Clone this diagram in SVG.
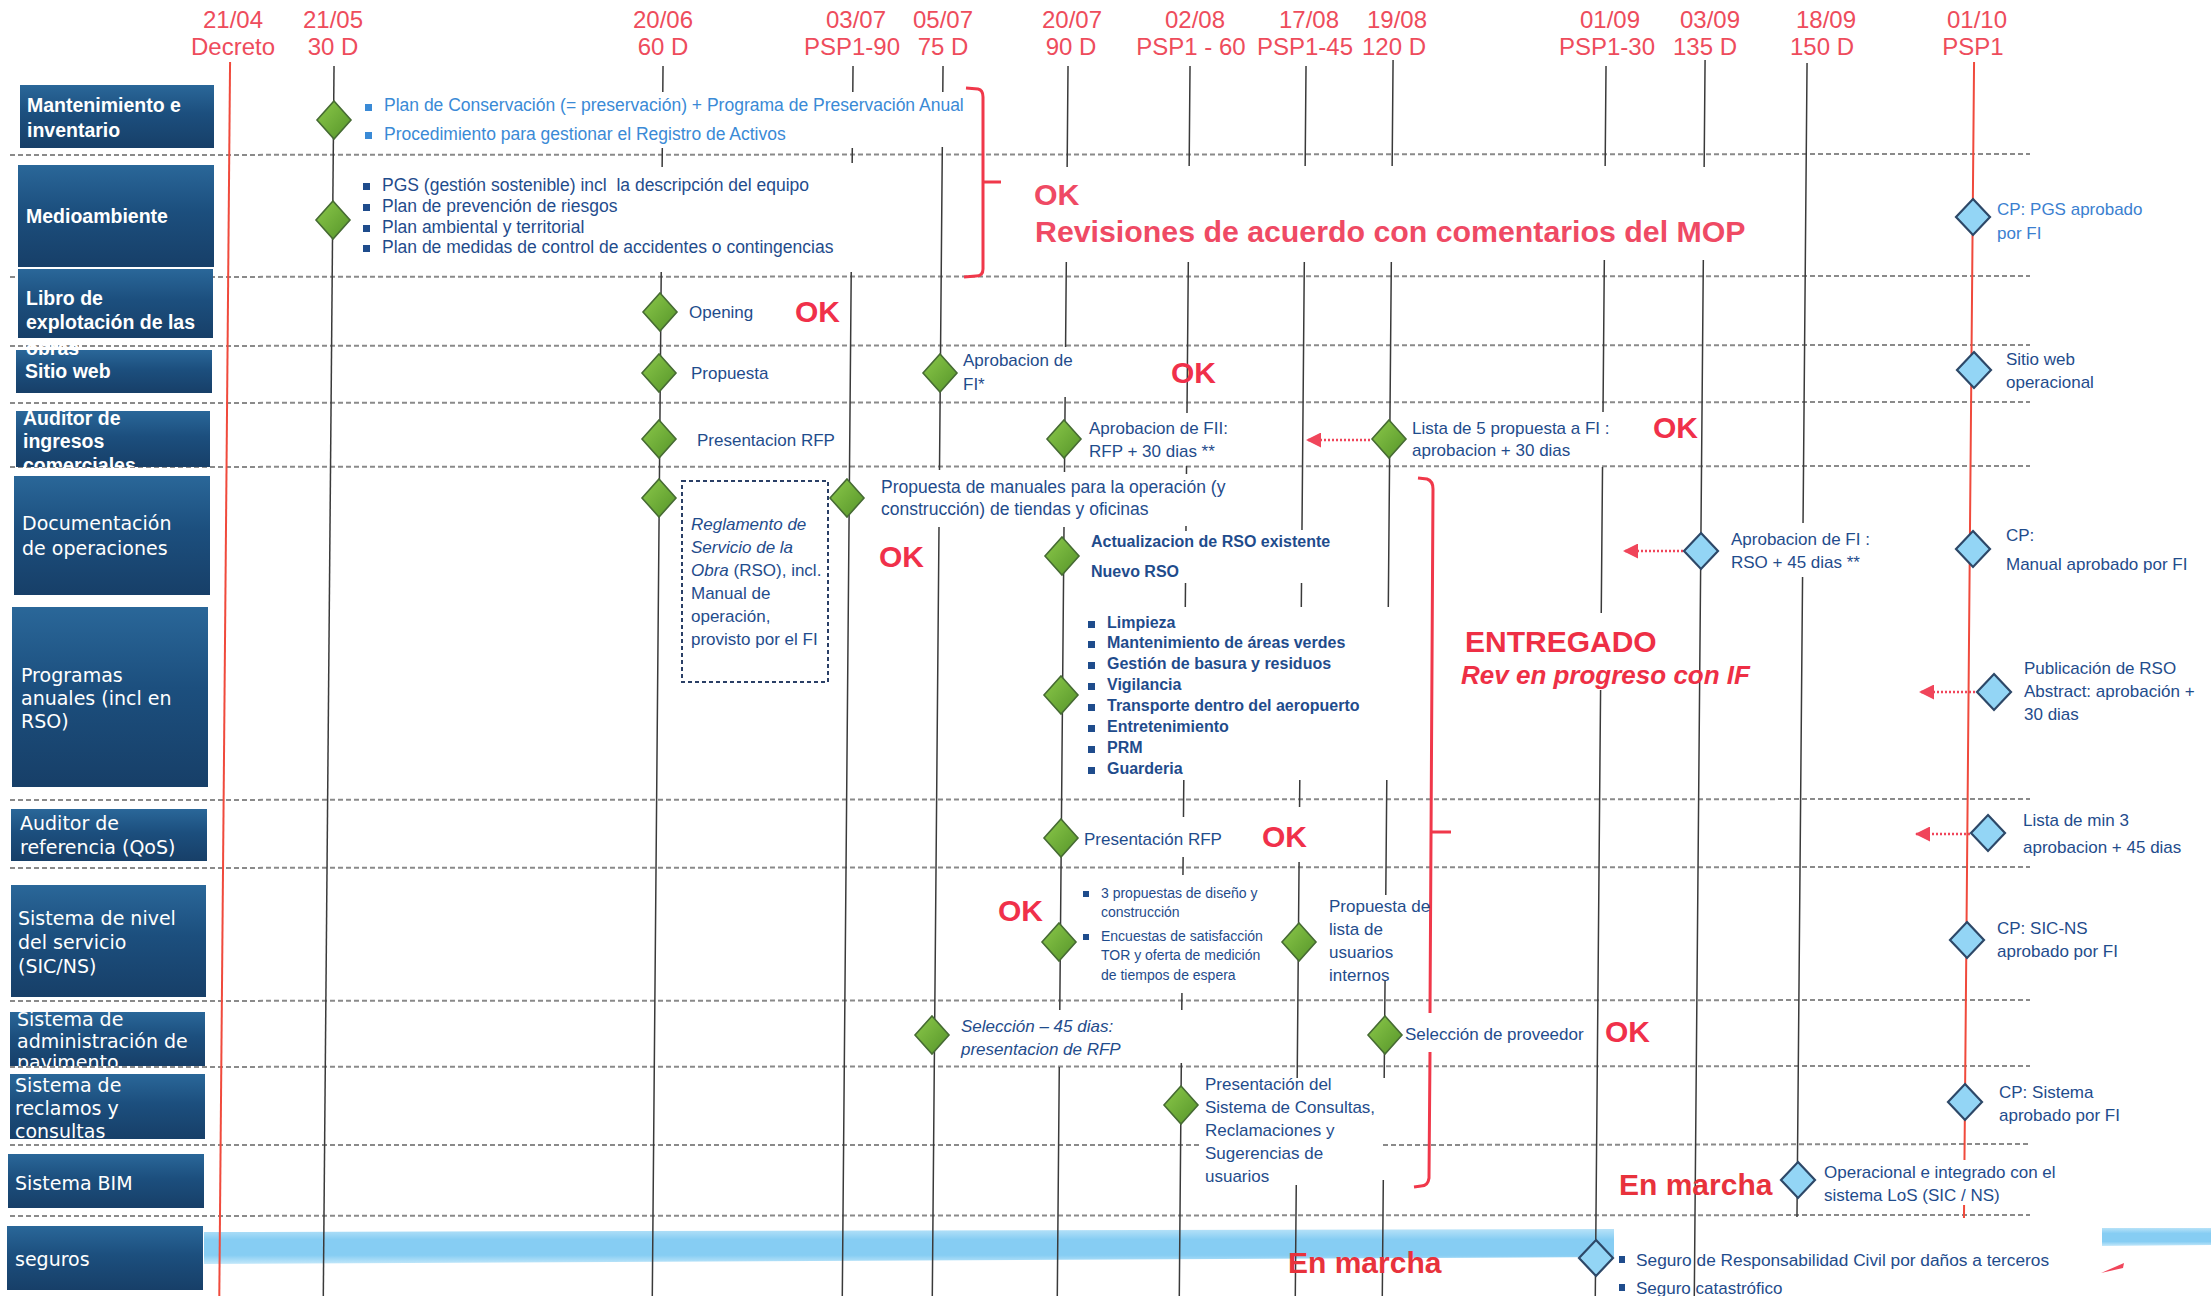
<svg xmlns="http://www.w3.org/2000/svg" xmlns:xlink="http://www.w3.org/1999/xlink" width="2211" height="1296" viewBox="0 0 2211 1296">
<defs>
<linearGradient id="boxg" x1="0" y1="0" x2="0" y2="1">
<stop offset="0" stop-color="#2a6799"/><stop offset="0.45" stop-color="#1c4f7e"/><stop offset="1" stop-color="#173f68"/>
</linearGradient>
<linearGradient id="greeng" x1="0" y1="0" x2="1" y2="1">
<stop offset="0" stop-color="#8cc94a"/><stop offset="1" stop-color="#559429"/>
</linearGradient>
<linearGradient id="bandg" x1="0" y1="0" x2="0" y2="1">
<stop offset="0" stop-color="#b7e2f8"/><stop offset="0.3" stop-color="#86cdf3"/><stop offset="0.75" stop-color="#86cdf3"/><stop offset="1" stop-color="#c4e8fa"/>
</linearGradient>
<polygon id="gd" points="0,-19 17,0 0,19 -17,0" fill="url(#greeng)" stroke="#466b33" stroke-width="1.6"/>
<polygon id="bd" points="0,-18 17,0 0,18 -17,0" fill="#93d5f5" stroke="#2d4868" stroke-width="2.2"/>
<marker id="ah" viewBox="0 0 10 10" refX="10" refY="5" markerWidth="20" markerHeight="15" markerUnits="userSpaceOnUse" orient="auto">
<path d="M0,0 L10,5 L0,10 z" fill="#f0455a"/>
</marker>
<clipPath id="clipAud"><rect x="0" y="411" width="230" height="56"/></clipPath>
<clipPath id="clipPav"><rect x="0" y="1012" width="230" height="54"/></clipPath>
<style>
.hd{font-family:"Liberation Sans",Arial,sans-serif;font-size:24px;fill:#ee4c5c;text-anchor:middle}
.box{fill:url(#boxg)}
.lb{font-family:"Liberation Sans",Arial,sans-serif;font-size:19.5px;font-weight:bold;fill:#fff}
.lr{font-family:"DejaVu Sans",Verdana,sans-serif;font-size:19px;fill:#fff}
.t{font-family:"Liberation Sans",Arial,sans-serif;font-size:17px;fill:#1f4c8c}
.ts{font-family:"Liberation Sans",Arial,sans-serif;font-size:17.5px;fill:#1f4c8c}
.tl{font-family:"Liberation Sans",Arial,sans-serif;font-size:17.5px;fill:#3a8ad6}
.tc{font-family:"Liberation Sans",Arial,sans-serif;font-size:17px;fill:#3b7fd0}
.tb{font-family:"Liberation Sans",Arial,sans-serif;font-size:16px;font-weight:bold;fill:#1f4c8c}
.tx{font-family:"Liberation Sans",Arial,sans-serif;font-size:14px;fill:#1f4c8c}
.it{font-style:italic}
.ok{font-family:"Liberation Sans",Arial,sans-serif;font-size:30px;font-weight:bold;fill:#f0304a}
.big{font-family:"Liberation Sans",Arial,sans-serif;font-size:30.3px;font-weight:bold;fill:#ef4a64}
.bul{fill:#1f4c8c}
.bull{fill:#3a8ad6}
.sep{stroke:#8a8a8a;stroke-width:2;stroke-dasharray:5 3;fill:none}
.vl{stroke:#3a3a3a;stroke-width:1.5;fill:none}
.vr{stroke:#f04a3c;stroke-width:2;fill:none}
.arr{stroke:#f0455a;stroke-width:2.5;stroke-dasharray:2 2;fill:none}
.br{stroke:#f0384a;stroke-width:3;fill:none}
</style>
</defs>
<rect width="2211" height="1296" fill="#ffffff"/>

<g id="separators">
<line class="sep" x1="10" y1="155" x2="2030" y2="154"/>
<line class="sep" x1="10" y1="277" x2="2030" y2="276"/>
<line class="sep" x1="10" y1="346" x2="2030" y2="345"/>
<line class="sep" x1="10" y1="403" x2="2030" y2="402"/>
<line class="sep" x1="10" y1="467" x2="2030" y2="466"/>
<line class="sep" x1="10" y1="800" x2="2030" y2="799"/>
<line class="sep" x1="10" y1="868" x2="2030" y2="867"/>
<line class="sep" x1="10" y1="1001" x2="2030" y2="1000"/>
<line class="sep" x1="10" y1="1067" x2="2030" y2="1066"/>
<line class="sep" x1="10" y1="1145" x2="1200" y2="1145"/>
<line class="sep" x1="1383" y1="1145" x2="2030" y2="1144"/>
<line class="sep" x1="10" y1="1216" x2="2030" y2="1215"/>
</g>

<g id="band">
<polygon points="204,1232 1614,1229 1614,1257 204,1264" fill="url(#bandg)"/>
<polygon points="2102,1228 2211,1228 2211,1245 2102,1246" fill="url(#bandg)"/>
<polygon points="2101,1273 2124,1263 2123,1268" fill="#f0455a"/>
</g>

<g id="header">
<text class="hd" x="233" y="28">21/04</text><text class="hd" x="233" y="55">Decreto</text>
<text class="hd" x="333" y="28">21/05</text><text class="hd" x="333" y="55">30 D</text>
<text class="hd" x="663" y="28">20/06</text><text class="hd" x="663" y="55">60 D</text>
<text class="hd" x="856" y="28">03/07</text><text class="hd" x="852" y="55">PSP1-90</text>
<text class="hd" x="943" y="28">05/07</text><text class="hd" x="943" y="55">75 D</text>
<text class="hd" x="1072" y="28">20/07</text><text class="hd" x="1071" y="55">90 D</text>
<text class="hd" x="1195" y="28">02/08</text><text class="hd" x="1191" y="55">PSP1 - 60</text>
<text class="hd" x="1309" y="28">17/08</text><text class="hd" x="1305" y="55">PSP1-45</text>
<text class="hd" x="1397" y="28">19/08</text><text class="hd" x="1394" y="55">120 D</text>
<text class="hd" x="1610" y="28">01/09</text><text class="hd" x="1607" y="55">PSP1-30</text>
<text class="hd" x="1710" y="28">03/09</text><text class="hd" x="1705" y="55">135 D</text>
<text class="hd" x="1826" y="28">18/09</text><text class="hd" x="1822" y="55">150 D</text>
<text class="hd" x="1977" y="28">01/10</text><text class="hd" x="1973" y="55">PSP1</text>
</g>

<g id="connectors">
<g transform="translate(0.6,0) skewX(-0.5)">
<path class="vr" d="M230,62 V1296"/>
<path class="vl" d="M334,66 V1296"/>
<path class="vl" d="M663,66 V92 M663,148 V167 M663,272 V1296"/>
<path class="vl" d="M853,66 V92 M853,148 V163 M853,272 V1296"/>
<path class="vl" d="M943,66 V92 M943,147 V470 M943,527 V1296"/>
<path class="vl" d="M1068,66 V167 M1068,262 V347 M1068,397 V472 M1068,527 V1010 M1068,1067 V1296"/>
<path class="vl" d="M1190,66 V166 M1190,262 V413 M1190,466 V474 M1190,526 V531 M1190,583 V607 M1190,780 V817 M1190,857 V875 M1190,993 V1010 M1190,1063 V1296"/>
<path class="vl" d="M1306,66 V166 M1306,262 V530 M1306,583 V607 M1306,780 V807 M1306,862 V1078 M1306,1185 V1296"/>
<path class="vl" d="M1393,60 V166 M1393,262 V607 M1393,780 V895 M1393,980 V1078 M1393,1180 V1296"/>
<path class="vl" d="M1606,66 V166 M1606,260 V412 M1606,467 V613 M1606,690 V1296"/>
<path class="vl" d="M1705,60 V167 M1705,260 V1296"/>
<path class="vl" d="M1807,63 V523 M1807,577 V1217"/>
<path class="vr" d="M1974,62 V1160 M1974,1205 V1218"/>
</g>
<line class="arr" x1="1370" y1="440" x2="1306" y2="440" marker-end="url(#ah)"/>
<line class="arr" x1="1683" y1="551" x2="1623" y2="551" marker-end="url(#ah)"/>
<line class="arr" x1="1975" y1="692" x2="1919" y2="692" marker-end="url(#ah)"/>
<line class="arr" x1="1970" y1="834" x2="1915" y2="834" marker-end="url(#ah)"/>
</g>

<g id="braces">
<path class="br" d="M966,88 L978,89 Q983,90 983,97 L983,269 Q983,276 976,276 L964,277 M983,182 L1001,182"/>
<path class="br" d="M1418,478 L1427,479 Q1433,481 1433,489 L1430,1013 M1430,1052 L1429,1178 Q1428,1186 1421,1186 L1414,1187 M1431,832 L1451,832"/>
</g>

<g id="lanes">
<rect class="box" x="20" y="85" width="194" height="63"/>
<rect class="box" x="18" y="165" width="196" height="102"/>
<rect class="box" x="18" y="269" width="195" height="69"/>
<rect class="box" x="16" y="350" width="196" height="43"/>
<rect class="box" x="16" y="411" width="194" height="56"/>
<rect class="box" x="14" y="476" width="196" height="119"/>
<rect class="box" x="12" y="607" width="196" height="180"/>
<rect class="box" x="11" y="809" width="196" height="52"/>
<rect class="box" x="11" y="885" width="195" height="112"/>
<rect class="box" x="10" y="1012" width="195" height="54"/>
<rect class="box" x="10" y="1074" width="195" height="65"/>
<rect class="box" x="8" y="1154" width="196" height="54"/>
<rect class="box" x="7" y="1226" width="196" height="64"/>
</g>
<g id="lane-mantenimiento"><text class="lb" x="27" y="112">Mantenimiento e</text><text class="lb" x="27" y="137">inventario</text></g>
<g id="lane-medioambiente"><text class="lb" x="26" y="223">Medioambiente</text></g>
<g id="lane-libro"><text class="lb" x="26" y="305">Libro de</text><text class="lb" x="26" y="329">explotación de las</text><text class="lb" x="26" y="355">obras</text></g>
<g id="lane-sitio"><text class="lb" x="25" y="378">Sitio web</text></g>
<g id="lane-auditor-ingresos" clip-path="url(#clipAud)"><text class="lb" x="23" y="425">Auditor de</text><text class="lb" x="23" y="448">ingresos</text><text class="lb" x="23" y="472">comerciales</text></g>
<g id="lane-documentacion"><text class="lr" x="22" y="530">Documentación</text><text class="lr" x="22" y="555">de operaciones</text></g>
<g id="lane-programas"><text class="lr" x="21" y="682">Programas</text><text class="lr" x="21" y="705">anuales (incl en</text><text class="lr" x="21" y="728">RSO)</text></g>
<g id="lane-auditor-ref"><text class="lr" x="20" y="830">Auditor de</text><text class="lr" x="20" y="854">referencia (QoS)</text></g>
<g id="lane-sistema-nivel"><text class="lr" x="18" y="925">Sistema de nivel</text><text class="lr" x="18" y="949">del servicio</text><text class="lr" x="18" y="973">(SIC/NS)</text></g>
<g id="lane-pavimento" clip-path="url(#clipPav)"><text class="lr" x="17" y="1026">Sistema de</text><text class="lr" x="17" y="1048">administración de</text><text class="lr" x="17" y="1069">pavimento</text></g>
<g id="lane-reclamos"><text class="lr" x="15" y="1092">Sistema de</text><text class="lr" x="15" y="1115">reclamos y</text><text class="lr" x="15" y="1138">consultas</text></g>
<g id="lane-bim"><text class="lr" x="15" y="1190">Sistema BIM</text></g>
<g id="lane-seguros"><text class="lr" x="15" y="1266">seguros</text></g>

<g id="n-mant">
<use xlink:href="#gd" x="334" y="120"/>
<rect class="bull" x="365" y="104" width="7" height="7"/>
<text class="tl" x="384" y="111">Plan de Conservación (= preservación) + Programa de Preservación Anual</text>
<rect class="bull" x="365" y="132" width="7" height="7"/>
<text class="tl" x="384" y="140">Procedimiento para gestionar el Registro de Activos</text>
</g>
<g id="n-medio">
<use xlink:href="#gd" x="333" y="220"/>
<rect class="bul" x="363" y="183" width="7" height="7"/>
<text class="ts" x="382" y="191" xml:space="preserve">PGS (gestión sostenible) incl  la descripción del equipo</text>
<rect class="bul" x="363" y="204" width="7" height="7"/>
<text class="ts" x="382" y="212">Plan de prevención de riesgos</text>
<rect class="bul" x="363" y="225" width="7" height="7"/>
<text class="ts" x="382" y="233">Plan ambiental y territorial</text>
<rect class="bul" x="363" y="245" width="7" height="7"/>
<text class="ts" x="382" y="253">Plan de medidas de control de accidentes o contingencias</text>
</g>
<g id="n-medio-revisiones">
<text class="big" x="1034" y="205">OK</text>
<text class="big" x="1035" y="242">Revisiones de acuerdo con comentarios del MOP</text>
</g>
<g id="n-cp-pgs">
<use xlink:href="#bd" x="1973" y="217"/>
<text class="tc" x="1997" y="215">CP: PGS aprobado</text>
<text class="tc" x="1997" y="239">por FI</text>
</g>

<g id="n-opening">
<use xlink:href="#gd" x="660" y="312"/>
<text class="t" x="689" y="318">Opening</text>
<text class="ok" x="795" y="322">OK</text>
</g>

<g id="n-sitio-propuesta">
<use xlink:href="#gd" x="659" y="373"/>
<text class="t" x="691" y="379">Propuesta</text>
</g>
<g id="n-sitio-aprobacion">
<use xlink:href="#gd" x="940" y="373"/>
<text class="t" x="963" y="366">Aprobacion de</text>
<text class="t" x="963" y="390">FI*</text>
<text class="ok" x="1171" y="383">OK</text>
</g>
<g id="n-sitio-operacional">
<use xlink:href="#bd" x="1974" y="370"/>
<text class="t" x="2006" y="365">Sitio web</text>
<text class="t" x="2006" y="388">operacional</text>
</g>

<g id="n-aud-rfp">
<use xlink:href="#gd" x="659" y="439"/>
<text class="t" x="697" y="446">Presentacion RFP</text>
</g>
<g id="n-aud-aprob">
<use xlink:href="#gd" x="1064" y="439"/>
<text class="t" x="1089" y="434">Aprobacion de FII:</text>
<text class="t" x="1089" y="457">RFP + 30 dias **</text>
</g>
<g id="n-aud-lista">
<use xlink:href="#gd" x="1389" y="439"/>
<text class="t" x="1412" y="434">Lista de 5 propuesta a FI :</text>
<text class="t" x="1412" y="456">aprobacion + 30 dias</text>
<text class="ok" x="1653" y="438">OK</text>
</g>

<g id="n-doc-reglamento">
<use xlink:href="#gd" x="659" y="498"/>
<rect x="682" y="481" width="146" height="201" fill="none" stroke="#2a3f66" stroke-width="2" stroke-dasharray="4 3"/>
<text class="t it" x="691" y="530">Reglamento de</text>
<text class="t it" x="691" y="553">Servicio de la</text>
<text class="t" x="691" y="576"><tspan class="it">Obra</tspan> (RSO), incl.</text>
<text class="t" x="691" y="599">Manual de</text>
<text class="t" x="691" y="622">operación,</text>
<text class="t" x="691" y="645">provisto por el FI</text>
</g>
<g id="n-doc-manuales">
<use xlink:href="#gd" x="847" y="498"/>
<text class="ts" x="881" y="493">Propuesta de manuales para la operación (y</text>
<text class="ts" x="881" y="515">construcción) de tiendas y oficinas</text>
<text class="ok" x="879" y="567">OK</text>
</g>
<g id="n-doc-rso">
<use xlink:href="#gd" x="1062" y="556"/>
<text class="tb" x="1091" y="547">Actualizacion de RSO existente</text>
<text class="tb" x="1091" y="577">Nuevo RSO</text>
</g>
<g id="n-doc-aprob">
<use xlink:href="#bd" x="1701" y="551"/>
<text class="t" x="1731" y="545">Aprobacion de FI :</text>
<text class="t" x="1731" y="568">RSO + 45 dias **</text>
</g>
<g id="n-doc-cp">
<use xlink:href="#bd" x="1973" y="549"/>
<text class="t" x="2006" y="541">CP:</text>
<text class="t" x="2006" y="570">Manual aprobado por FI</text>
</g>

<g id="n-programas">
<use xlink:href="#gd" x="1061" y="695"/>
<rect class="bul" x="1088" y="621" width="7" height="7"/><text class="tb" x="1107" y="628">Limpieza</text>
<rect class="bul" x="1088" y="641" width="7" height="7"/><text class="tb" x="1107" y="648">Mantenimiento de áreas verdes</text>
<rect class="bul" x="1088" y="662" width="7" height="7"/><text class="tb" x="1107" y="669">Gestión de basura y residuos</text>
<rect class="bul" x="1088" y="683" width="7" height="7"/><text class="tb" x="1107" y="690">Vigilancia</text>
<rect class="bul" x="1088" y="704" width="7" height="7"/><text class="tb" x="1107" y="711">Transporte dentro del aeropuerto</text>
<rect class="bul" x="1088" y="725" width="7" height="7"/><text class="tb" x="1107" y="732">Entretenimiento</text>
<rect class="bul" x="1088" y="746" width="7" height="7"/><text class="tb" x="1107" y="753">PRM</text>
<rect class="bul" x="1088" y="767" width="7" height="7"/><text class="tb" x="1107" y="774">Guarderia</text>
</g>
<g id="n-entregado">
<text class="ok" x="1465" y="652" style="fill:#ee2f45">ENTREGADO</text>
<text class="ok it" x="1461" y="684" style="font-size:26px;fill:#ee2f45">Rev en progreso con IF</text>
</g>
<g id="n-prog-publicacion">
<use xlink:href="#bd" x="1994" y="692"/>
<text class="t" x="2024" y="674">Publicación de RSO</text>
<text class="t" x="2024" y="697">Abstract: aprobación +</text>
<text class="t" x="2024" y="720">30 dias</text>
</g>

<g id="n-ref-rfp">
<use xlink:href="#gd" x="1061" y="838"/>
<text class="t" x="1084" y="845">Presentación RFP</text>
<text class="ok" x="1262" y="847">OK</text>
</g>
<g id="n-ref-lista">
<use xlink:href="#bd" x="1988" y="833"/>
<text class="t" x="2023" y="826">Lista de min 3</text>
<text class="t" x="2023" y="853">aprobacion + 45 dias</text>
</g>

<g id="n-nivel-propuestas">
<text class="ok" x="998" y="921">OK</text>
<use xlink:href="#gd" x="1059" y="942"/>
<rect class="bul" x="1083" y="891" width="6" height="6"/>
<text class="tx" x="1101" y="898">3 propuestas de diseño y</text>
<text class="tx" x="1101" y="917">construcción</text>
<rect class="bul" x="1083" y="934" width="6" height="6"/>
<text class="tx" x="1101" y="941">Encuestas de satisfacción</text>
<text class="tx" x="1101" y="960">TOR y oferta de medición</text>
<text class="tx" x="1101" y="980">de tiempos de espera</text>
</g>
<g id="n-nivel-lista">
<use xlink:href="#gd" x="1299" y="942"/>
<text class="t" x="1329" y="912">Propuesta de</text>
<text class="t" x="1329" y="935">lista de</text>
<text class="t" x="1329" y="958">usuarios</text>
<text class="t" x="1329" y="981">internos</text>
</g>
<g id="n-nivel-cp">
<use xlink:href="#bd" x="1967" y="940"/>
<text class="t" x="1997" y="934">CP: SIC-NS</text>
<text class="t" x="1997" y="957">aprobado por FI</text>
</g>

<g id="n-pav-seleccion">
<use xlink:href="#gd" x="932" y="1035"/>
<text class="t it" x="961" y="1032">Selección – 45 dias:</text>
<text class="t it" x="961" y="1055">presentacion de RFP</text>
</g>
<g id="n-pav-proveedor">
<use xlink:href="#gd" x="1385" y="1035"/>
<text class="t" x="1405" y="1040">Selección de proveedor</text>
<text class="ok" x="1605" y="1042">OK</text>
</g>

<g id="n-rec-presentacion">
<use xlink:href="#gd" x="1181" y="1105"/>
<text class="t" x="1205" y="1090">Presentación del</text>
<text class="t" x="1205" y="1113">Sistema de Consultas,</text>
<text class="t" x="1205" y="1136">Reclamaciones y</text>
<text class="t" x="1205" y="1159">Sugerencias de</text>
<text class="t" x="1205" y="1182">usuarios</text>
</g>
<g id="n-rec-cp">
<use xlink:href="#bd" x="1965" y="1102"/>
<text class="t" x="1999" y="1098">CP: Sistema</text>
<text class="t" x="1999" y="1121">aprobado por FI</text>
</g>

<g id="n-bim">
<text class="ok" x="1619" y="1195" style="fill:#e8323c">En marcha</text>
<use xlink:href="#bd" x="1798" y="1180"/>
<text class="t" x="1824" y="1178">Operacional e integrado con el</text>
<text class="t" x="1824" y="1201">sistema LoS (SIC / NS)</text>
</g>

<g id="n-seguros">
<text class="ok" x="1288" y="1273" style="fill:#e8323c">En marcha</text>
<use xlink:href="#bd" x="1596" y="1258"/>
<rect class="bul" x="1619" y="1256" width="6" height="7"/>
<text class="t" x="1636" y="1266" style="font-size:17.3px">Seguro de Responsabilidad Civil por daños a terceros</text>
<rect class="bul" x="1619" y="1284" width="6" height="7"/>
<text class="t" x="1636" y="1294">Seguro catastrófico</text>
</g>
</svg>
